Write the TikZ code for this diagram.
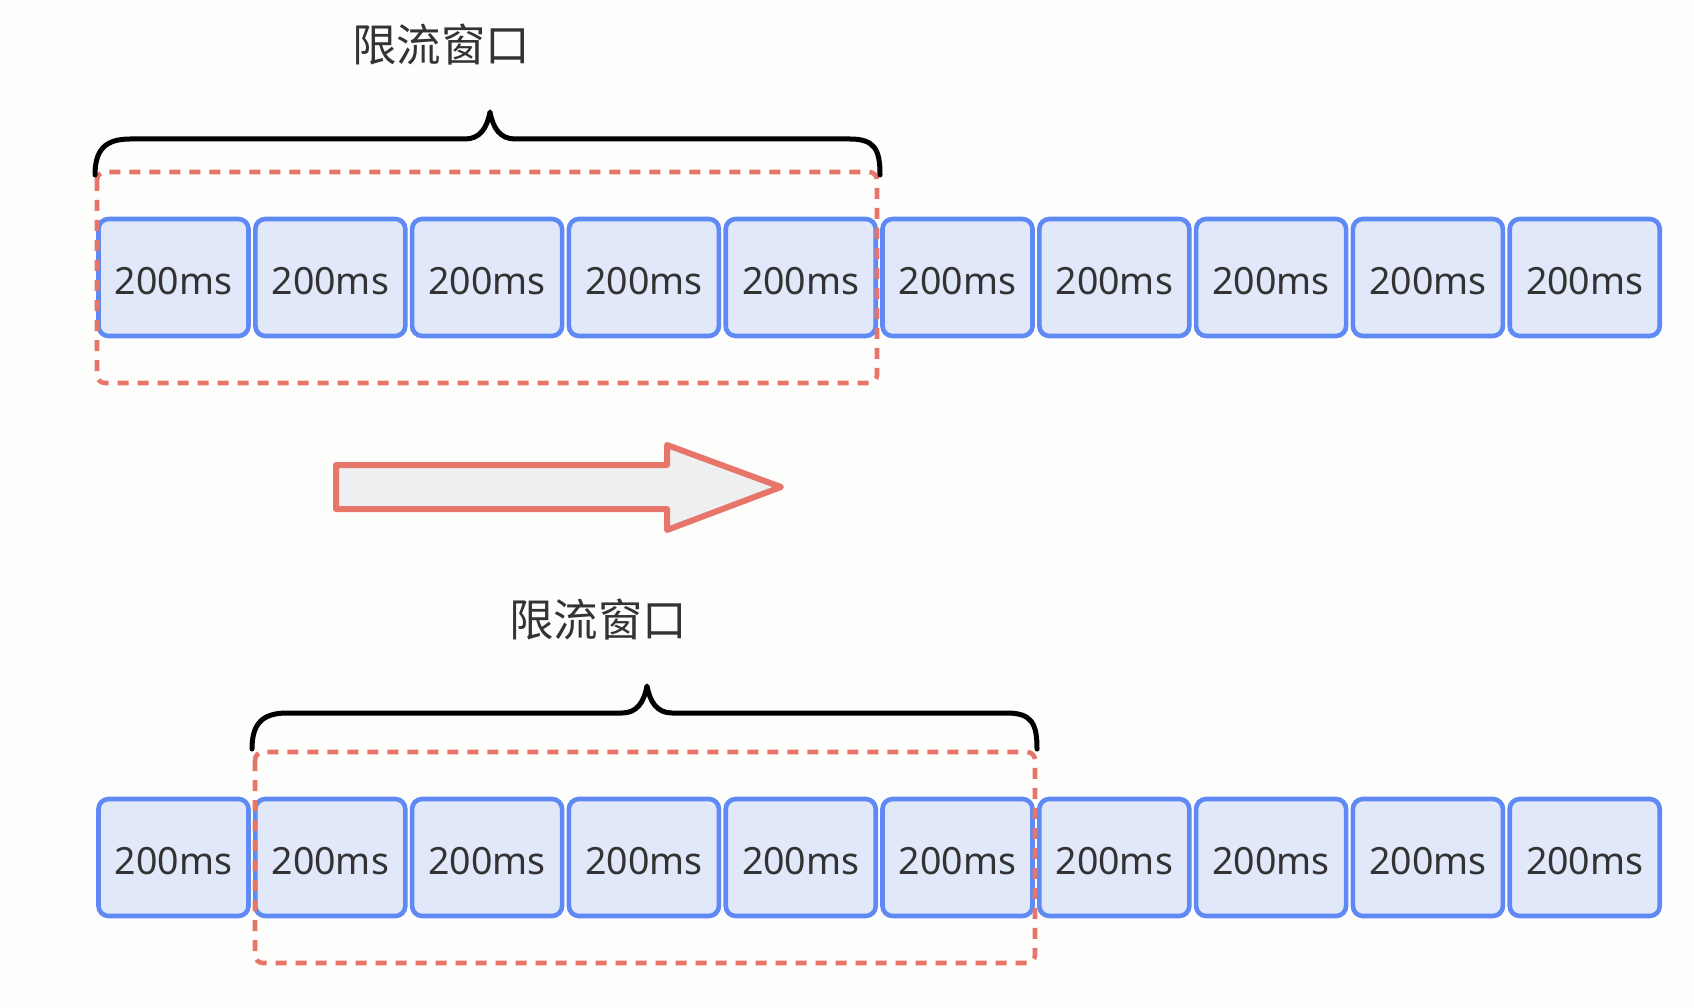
\documentclass[tikz,border=0pt]{standalone}
\usepackage{fontspec}
\setmainfont{Noto Sans}
\newfontfamily\cjk{Noto Sans CJK SC}
\definecolor{bg}{HTML}{FDFDFB}
\definecolor{boxfill}{HTML}{E1E8FA}
\definecolor{boxline}{HTML}{5F8AF3}
\definecolor{txt}{HTML}{333333}
\definecolor{winred}{HTML}{E8756A}
\definecolor{arrowfill}{HTML}{EEEFF1}
\newcommand{\cellText}{\raisebox{-3pt}[\height][0pt]{200ms}}
\begin{document}
\begin{tikzpicture}[x=1pt,y=-1pt,
  cell/.style={draw=boxline, fill=boxfill, line width=4.6pt, rounded corners=10pt,
    minimum width=150pt, minimum height=117pt, inner sep=0pt, text=txt,
    font=\fontsize{37.5}{40}\selectfont},
  win/.style={draw=winred, line width=4.6pt, dash pattern=on 11pt off 9pt, rounded corners=8pt},
  bracepath/.style={draw=black, line width=5pt, line cap=round, line join=round},
  title/.style={text=txt, font=\cjk\fontsize{44.5}{46}\selectfont, inner sep=0pt},
  bigarrow/.style={draw=winred, fill=arrowfill, line width=6pt, line join=round}]
\fill[bg] (0,0) rectangle (1694,1008);
\useasboundingbox (0,0) rectangle (1694,1008);

% top row
\foreach \i in {1,...,10} {
  \node[cell] (t\i) at ({173.5+(\i-1)*156.8},277.5) {\cellText};
}
\draw[win] (97,172) rectangle (877,383);
\draw[bracepath] (95,175) .. controls (95,150) and (105,139) .. (130,139) -- (465,139)
  .. controls (480,139) and (487,128) .. (490,112)
  .. controls (493,128) and (500,139) .. (515,139) -- (850,139)
  .. controls (875,139) and (880,150) .. (880,175);
\node[title] (ttl1) at (441,45) {限流窗口};

% arrow
\draw[bigarrow] (336,465) -- (667,465) -- (667,445) -- (781,487) -- (667,530) -- (667,509) -- (336,509) -- cycle;

% bottom row
\foreach \i in {1,...,10} {
  \node[cell] (b\i) at ({173.5+(\i-1)*156.8},857.5) {\cellText};
}
\draw[win] (255,752) rectangle (1035,963);
\begin{scope}[shift={(157,574)}]
\draw[bracepath] (95,175) .. controls (95,150) and (105,139) .. (130,139) -- (465,139)
  .. controls (480,139) and (487,128) .. (490,112)
  .. controls (493,128) and (500,139) .. (515,139) -- (850,139)
  .. controls (875,139) and (880,150) .. (880,175);
\end{scope}
\node[title] (ttl2) at (598,620) {限流窗口};
\end{tikzpicture}
\end{document}
